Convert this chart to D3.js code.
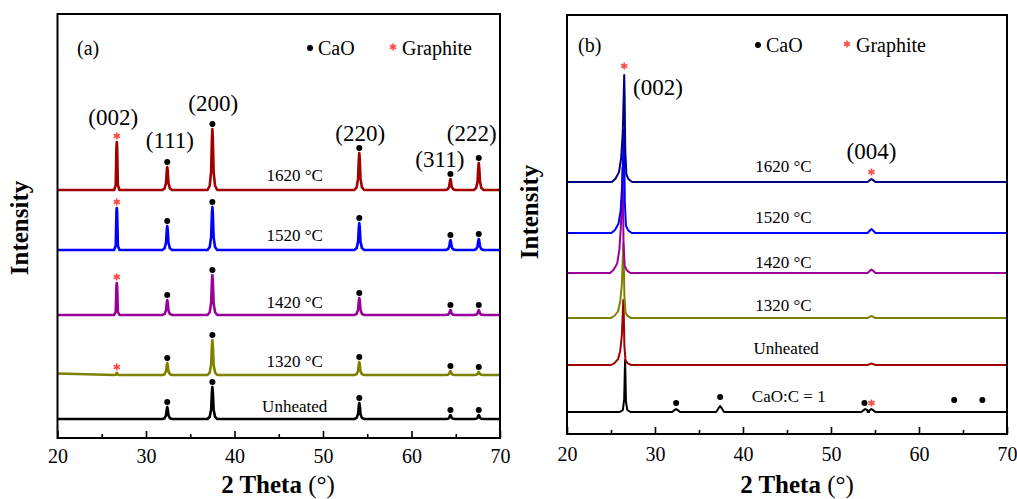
<!DOCTYPE html>
<html>
<head>
<meta charset="utf-8">
<script src="https://cdn.jsdelivr.net/npm/d3@7"></script>
<style>
  body { margin: 0; background: #fff; }
  svg { display: block; font-family: "Liberation Serif", "Times New Roman", serif; }
  .tick text { font-family: "Liberation Serif", "Times New Roman", serif; }
</style>
</head>
<body>
<svg id="chart" width="1017" height="499"></svg>
<script>
// ---- data (2 theta in degrees, intensity in arbitrary units) ----
const xTicks = [20, 30, 40, 50, 60, 70];
const xMinorTicks = [25, 35, 45, 55, 65];

// panel (a)
const seriesA = ["1620 °C", "1520 °C", "1420 °C", "1320 °C", "Unheated"];
const colorsA = ["#a00000", "#0000ff", "#990099", "#808000", "#000000"];
const offsetsA = [248, 188, 123, 63, 19];
const peakPosA = [26.7, 32.4, 37.5, 54.1, 64.4, 67.6];
const peakNamesA = ["(002)", "(111)", "(200)", "(220)", "(311)", "(222)"];
const peakPhaseA = ["G", "C", "C", "C", "C", "C"];
const h1620A = [48, 23, 61, 37, 11, 27];
const h1520A = [42, 24, 43, 27, 10, 11];
const h1420A = [32, 15, 40, 17, 5, 5];
const h1320A = [2, 12, 35, 13, 4, 3];
const hUnheatedA = [0, 12, 32, 16, 4, 4];
const heightsA = [h1620A, h1520A, h1420A, h1320A, hUnheatedA];
const labelPosA = [[26.3, 321], [32.7, 298], [37.6, 335], [54.2, 305], [63.2, 279], [66.8, 305]];
const tempLabelYA = [263, 203, 136, 77, 32];

// panel (b)
const seriesB = ["1620 °C", "1520 °C", "1420 °C", "1320 °C", "Unheated", "CaO:C = 1"];
const colorsB = ["#000080", "#0000ff", "#990099", "#808000", "#a00000", "#000000"];
const offsetsB = [252, 201, 161, 116, 69, 22];
const mainPosB = [26.5, 26.45, 26.3, 26.4, 26.4, 26.6];
const mainHeightB = [107, 103, 105, 75, 65, 52];
const bump004B = [3, 4, 3.5, 2, 1.5, 3];
const minorPosB = [32.4, 37.4, 53.9];          // CaO peaks in CaO:C = 1 pattern
const minorHeightB = [3, 6, 3];
const markersB = [[32.4, 31, "C"], [37.4, 37, "C"], [53.8, 31, "C"], [54.6, 31, "G"], [64.0, 34, "C"], [67.2, 34, "C"]];
const tempLabelXB = [44.6, 44.6, 44.6, 44.6, 44.9, 45.2];
const tempLabelYB = [268, 217, 172, 129, 86, 38];

// ---- drawing ----
const svg = d3.select("#chart");
const font = "Liberation Serif, Times New Roman, serif";
const starColor = "#ff4a4a";

// peak profiles: [offset in degrees, fraction of height]
const narrowProfile = [[-0.55, 0], [-0.3, 0.07], [-0.14, 0.3], [-0.05, 0.85], [0, 1], [0.05, 0.85], [0.14, 0.3], [0.3, 0.07], [0.55, 0]];
const graphiteProfile = [[-0.3, 0], [-0.12, 0.1], [-0.04, 0.9], [0, 1], [0.04, 0.9], [0.12, 0.1], [0.3, 0]];
const broadProfile = [[-1.4, 0], [-1.0, 0.03], [-0.6, 0.09], [-0.35, 0.22], [-0.17, 0.45], [-0.06, 0.8], [0, 1], [0.05, 0.8], [0.12, 0.3], [0.25, 0.07], [0.5, 0.025], [0.9, 0]];
const sharpProfile = [[-0.6, 0], [-0.25, 0.04], [-0.1, 0.25], [-0.03, 0.8], [0, 1], [0.03, 0.8], [0.1, 0.2], [0.25, 0.04], [0.6, 0]];
const bumpProfile = [[-0.45, 0], [-0.15, 0.7], [0, 1], [0.15, 0.7], [0.45, 0]];

// build the vertex list of one pattern from its peaks
function pattern(peaks) {
  const pts = [[20, 0]];
  peaks.filter(p => p.h > 0).sort((a, b) => a.pos - b.pos).forEach(p => {
    p.profile.forEach(([dx, f]) => pts.push([p.pos + dx, f * p.h]));
  });
  pts.push([70, 0]);
  return pts;
}

function drawFrame(g, x, y, left, right, top, bottom, padding) {
  g.append("g")
    .attr("transform", `translate(0,${bottom})`)
    .call(d3.axisBottom(x).tickValues(xMinorTicks).tickSizeInner(-4).tickSizeOuter(0).tickFormat(""))
    .call(s => s.select(".domain").remove())
    .call(s => s.selectAll("line").attr("stroke-width", 1.6));
  g.append("g")
    .attr("transform", `translate(0,${bottom})`)
    .call(d3.axisBottom(x).tickValues(xTicks).tickSizeInner(-7).tickSizeOuter(0).tickPadding(padding))
    .attr("font-family", font).attr("font-size", 20)
    .call(s => s.select(".domain").remove())
    .call(s => s.selectAll("line").attr("stroke-width", 1.6))
    .call(s => s.selectAll("text").attr("fill", "#000"));
  g.append("rect")
    .attr("x", left).attr("y", top)
    .attr("width", right - left).attr("height", bottom - top)
    .attr("fill", "none").attr("stroke", "#000").attr("stroke-width", 2);
}

function axisTitles(g, cx, ix, iy) {
  const t = g.append("text")
    .attr("x", cx).attr("y", 493)
    .attr("text-anchor", "middle")
    .attr("font-size", 25);
  t.append("tspan").attr("font-weight", "bold").text("2 Theta ");
  t.append("tspan").text("(°)");
  g.append("text")
    .attr("transform", `translate(${ix},${iy}) rotate(-90)`)
    .attr("text-anchor", "middle")
    .attr("font-size", 25)
    .attr("font-weight", "bold")
    .text("Intensity");
}

function dot(g, cx, cy) {
  g.append("circle").attr("cx", cx).attr("cy", cy).attr("r", 3).attr("fill", "#000");
}
function star(g, cx, cy) {
  g.append("path")
    .attr("transform", `translate(${cx},${cy})`)
    .attr("d", d3.symbol(d3.symbolAsterisk, 36)())
    .attr("fill", "none").attr("stroke", starColor).attr("stroke-width", 1.6);
}

function legend(g, label, lx, ly, dotX, starX) {
  g.append("text").attr("x", lx).attr("y", ly).attr("dy", "0.35em").attr("font-size", 20).text(label);
  dot(g, dotX, ly);
  g.append("text").attr("x", dotX + 8).attr("y", ly).attr("dy", "0.35em").attr("font-size", 20).text("CaO");
  star(g, starX, ly - 1);
  g.append("text").attr("x", starX + 9).attr("y", ly).attr("dy", "0.35em").attr("font-size", 20).text("Graphite");
}

// ---------- panel (a) ----------
{
  const left = 57.5, right = 500, top = 14, bottom = 438;
  const x = d3.scaleLinear().domain([20, 70]).range([left, right]);
  const y = d3.scaleLinear().domain([0, 424]).range([bottom, top]);
  const g = svg.append("g");
  const line = d3.line().x(d => x(d[0])).y(d => y(d[1]));

  seriesA.forEach((name, i) => {
    const peaks = peakPosA.map((pos, k) => ({
      pos, h: heightsA[i][k],
      profile: peakPhaseA[k] === "G" ? graphiteProfile : narrowProfile
    }));
    const pts = pattern(peaks).map(d => [d[0], d[1] + offsetsA[i]]);
    if (name === "1320 °C") { pts[0][1] += 1.5; }
    g.append("path").attr("d", line(pts))
      .attr("fill", "none").attr("stroke", colorsA[i])
      .attr("stroke-width", 2.6).attr("stroke-linejoin", "round");

    peakPosA.forEach((pos, k) => {
      const h = heightsA[i][k];
      if (h <= 0) return;
      const my = y(offsetsA[i] + h) - 6;
      if (peakPhaseA[k] === "G") star(g, x(pos), my);
      else dot(g, x(pos), my + 1);
    });

    g.append("text")
      .attr("x", x(46.8)).attr("y", y(tempLabelYA[i]))
      .attr("dy", "0.35em").attr("text-anchor", "middle")
      .attr("font-size", 17).text(name);
  });

  peakNamesA.forEach((n, k) => {
    g.append("text")
      .attr("x", x(labelPosA[k][0])).attr("y", y(labelPosA[k][1]))
      .attr("dy", "0.35em").attr("text-anchor", "middle")
      .attr("font-size", 23).text(n);
  });

  drawFrame(g, x, y, left, right, top, bottom, 11);
  legend(g, "(a)", 77, 48, 310, 393);
  axisTitles(g, 278, 28, 228);
}

// ---------- panel (b) ----------
{
  const left = 567, right = 1007, top = 15, bottom = 434;
  const x = d3.scaleLinear().domain([20, 70]).range([left, right]);
  const y = d3.scaleLinear().domain([0, 419]).range([bottom, top]);
  const g = svg.append("g");
  const line = d3.line().x(d => x(d[0])).y(d => y(d[1]));

  // draw bottom pattern first so the upper ones overlap the tall (002) peaks
  for (let i = seriesB.length - 1; i >= 0; i--) {
    const isRef = i === seriesB.length - 1;
    const peaks = [
      { pos: mainPosB[i], h: mainHeightB[i], profile: isRef ? sharpProfile : broadProfile },
      { pos: 54.6, h: bump004B[i], profile: bumpProfile }
    ];
    if (isRef) {
      minorPosB.forEach((pos, k) => peaks.push({ pos, h: minorHeightB[k], profile: bumpProfile }));
    }
    const pts = pattern(peaks).map(d => [d[0], d[1] + offsetsB[i]]);
    g.append("path").attr("d", line(pts))
      .attr("fill", "none").attr("stroke", colorsB[i])
      .attr("stroke-width", 2).attr("stroke-linejoin", "round");

    g.append("text")
      .attr("x", x(tempLabelXB[i])).attr("y", y(tempLabelYB[i]))
      .attr("dy", "0.35em").attr("text-anchor", "middle")
      .attr("font-size", 17).text(seriesB[i]);
  }

  markersB.forEach(([pos, h, type]) => {
    if (type === "G") star(g, x(pos), y(h));
    else dot(g, x(pos), y(h));
  });
  star(g, x(mainPosB[0]), y(offsetsB[0] + mainHeightB[0]) - 9);
  star(g, x(54.6), y(offsetsB[0] + bump004B[0]) - 7);

  g.append("text").attr("x", 633).attr("y", 87).attr("dy", "0.35em").attr("font-size", 23).text("(002)");
  g.append("text").attr("x", x(54.6)).attr("y", 151).attr("dy", "0.35em")
    .attr("text-anchor", "middle").attr("font-size", 23).text("(004)");

  drawFrame(g, x, y, left, right, top, bottom, 13);
  legend(g, "(b)", 578, 45, 758, 847);
  axisTitles(g, 797, 538, 212);
}
</script>
</body>
</html>
